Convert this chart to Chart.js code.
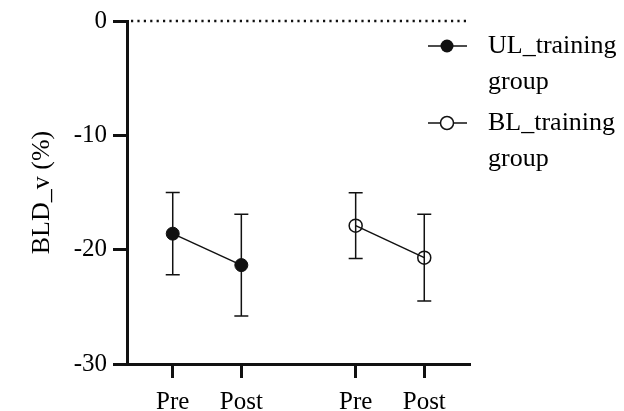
<!DOCTYPE html>
<html>
<head>
<meta charset="utf-8">
<script src="https://cdn.jsdelivr.net/npm/chart.js@4"></script>
<style>
  html, body { margin: 0; padding: 0; background: #fff; }
  #wrap { width: 624px; height: 411px; }
</style>
</head>
<body>
<div id="wrap"><canvas id="myChart"></canvas></div>
<script>
// Data
const categories = ["Pre", "Post", "Pre", "Post"];
const groups = [["UL_training", "group"], ["BL_training", "group"]];
const ulMean = [-18.6, -21.35];
const ulSD = [3.6, 4.45];
const blMean = [-17.9, -20.7];
const blSD = [2.88, 3.8];
const yTicks = [0, -10, -20, -30];

// where each category sits on the x axis (Pre/Post, gap, Pre/Post)
const xPos = [2 / 3, 5 / 3, 10 / 3, 13 / 3];
const FONT = "'Liberation Serif', 'Times New Roman', serif";
const INK = "#111";

// Error bars (mean +/- SD), drawn under the markers
const errorBars = {
  id: "errorBars",
  beforeDatasetsDraw(chart) {
    const ctx = chart.ctx;
    const y = chart.scales.y;
    ctx.save();
    ctx.strokeStyle = INK;
    ctx.lineWidth = 1.5;
    chart.data.datasets.forEach((ds, i) => {
      const meta = chart.getDatasetMeta(i);
      meta.data.forEach((pt, j) => {
        const v = ds.data[j].y;
        const top = y.getPixelForValue(v + ds.errors[j]);
        const bot = y.getPixelForValue(v - ds.errors[j]);
        ctx.beginPath();
        ctx.moveTo(pt.x, top);
        ctx.lineTo(pt.x, bot);
        ctx.moveTo(pt.x - 7, top);
        ctx.lineTo(pt.x + 7, top);
        ctx.moveTo(pt.x - 7, bot);
        ctx.lineTo(pt.x + 7, bot);
        ctx.stroke();
      });
    });
    ctx.restore();
  },
};

// Dotted reference line at 0
const zeroLine = {
  id: "zeroLine",
  beforeDatasetsDraw(chart) {
    const ctx = chart.ctx;
    const a = chart.chartArea;
    const y0 = chart.scales.y.getPixelForValue(0);
    ctx.save();
    ctx.strokeStyle = INK;
    ctx.lineWidth = 2.4;
    ctx.setLineDash([2.2, 4.2]);
    ctx.beginPath();
    ctx.moveTo(a.left + 4, y0);
    ctx.lineTo(a.right - 4, y0);
    ctx.stroke();
    ctx.restore();
  },
};

// Legend in the top right, two-line labels
const sideLegend = {
  id: "sideLegend",
  afterDraw(chart) {
    const ctx = chart.ctx;
    const rows = [46, 123];
    ctx.save();
    ctx.font = "26px " + FONT;
    ctx.fillStyle = "#000";
    ctx.textBaseline = "middle";
    chart.data.datasets.forEach((ds, i) => {
      const cy = rows[i];
      ctx.strokeStyle = INK;
      ctx.lineWidth = 1.5;
      ctx.beginPath();
      ctx.moveTo(428, cy);
      ctx.lineTo(467, cy);
      ctx.stroke();
      ctx.beginPath();
      ctx.arc(447, cy, 6.5, 0, Math.PI * 2);
      if (ds.pointBackgroundColor !== "rgba(0,0,0,0)") {
        ctx.fillStyle = ds.pointBackgroundColor;
        ctx.fill();
      } else {
        ctx.fillStyle = "#fff";
        ctx.fill();
        ctx.stroke();
      }
      ctx.fillStyle = "#000";
      groups[i].forEach((line, k) => {
        ctx.fillText(line, 488, cy + k * 36);
      });
    });
    ctx.restore();
  },
};

const ctx = document.querySelector("#myChart").getContext("2d");
const myChart = new Chart(ctx, {
  type: "line",
  data: {
    datasets: [
      {
        label: groups[0].join(" "),
        data: ulMean.map((v, i) => ({ x: xPos[i], y: v })),
        errors: ulSD,
        borderColor: INK,
        borderWidth: 1.5,
        pointRadius: 6.5,
        pointBackgroundColor: INK,
        pointBorderColor: INK,
        pointBorderWidth: 1,
      },
      {
        label: groups[1].join(" "),
        data: blMean.map((v, i) => ({ x: xPos[i + 2], y: v })),
        errors: blSD,
        borderColor: INK,
        borderWidth: 1.5,
        pointRadius: 6.5,
        pointBackgroundColor: "rgba(0,0,0,0)",
        pointBorderColor: INK,
        pointBorderWidth: 1.5,
      },
    ],
  },
  options: {
    responsive: true,
    maintainAspectRatio: false,
    animation: false,
    events: [],
    layout: { padding: { top: 20, right: 154, left: 0, bottom: 0 } },
    plugins: {
      legend: { display: false },
      tooltip: { enabled: false },
    },
    scales: {
      x: {
        type: "linear",
        min: 0,
        max: 5,
        afterBuildTicks(scale) {
          scale.ticks = xPos.map((v) => ({ value: v }));
        },
        afterFit(scale) {
          scale.height = 47;
        },
        ticks: {
          autoSkip: false,
          maxRotation: 0,
          color: "#000",
          padding: 9,
          font: { family: FONT, size: 25 },
          callback: (value, index) => categories[index],
        },
        grid: {
          drawOnChartArea: false,
          tickLength: 14,
          tickWidth: 3,
          color: INK,
        },
        border: { width: 3, color: INK },
      },
      y: {
        min: -30,
        max: 0,
        afterBuildTicks(scale) {
          scale.ticks = yTicks.map((v) => ({ value: v }));
        },
        afterFit(scale) {
          scale.width = 127;
        },
        ticks: {
          color: "#000",
          padding: 6,
          font: { family: FONT, size: 25 },
        },
        grid: {
          drawOnChartArea: false,
          tickLength: 14,
          tickWidth: 3,
          color: INK,
        },
        border: { width: 3, color: INK },
        title: {
          display: true,
          text: "BLD_v (%)",
          color: "#000",
          font: { family: FONT, size: 26 },
          padding: { top: 27, bottom: 0 },
        },
      },
    },
  },
  plugins: [errorBars, zeroLine, sideLegend],
});
</script>
</body>
</html>
